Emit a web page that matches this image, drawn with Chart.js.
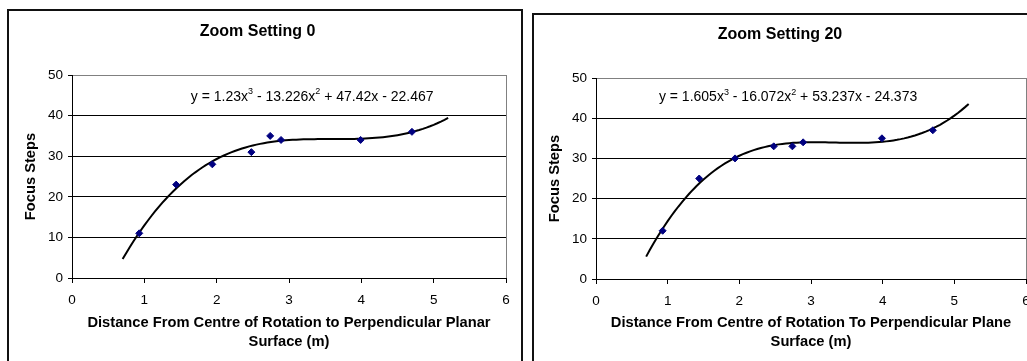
<!DOCTYPE html>
<html>
<head>
<meta charset="utf-8">
<title>Focus steps vs distance</title>
<script src="https://cdn.jsdelivr.net/npm/chart.js@4.4.1/dist/chart.umd.min.js"></script>
<style>
  html, body { margin: 0; padding: 0; background: #fff; }
  body { position: relative; width: 1027px; height: 361px; overflow: hidden; }
  .panel { position: absolute; border: 2px solid #111; background: #fff; }
  #panel0 { left: 7px; top: 9px; width: 512px; height: 360px; }
  #panel20 { left: 532px; top: 13px; width: 505px; height: 360px; }
  canvas { display: block; }
</style>
</head>
<body>
<div class="panel" id="panel0"><canvas id="chart0" width="512" height="350"></canvas></div>
<div class="panel" id="panel20"><canvas id="chart20" width="505" height="346"></canvas></div>
<script>
// measured distance (m) and focus steps at each zoom setting
const distance = [0.93, 1.44, 1.94, 2.48, 2.74, 2.89, 3.99, 4.70];
const stepsZoom0 = [11, 23, 28, 31, 35, 34, 34, 36];
const stepsZoom20 = [12, 25, 30, 33, 33, 34, 35, 37];

// cubic trendline coefficients: x^3, x^2, x, constant
const fitZoom0 = [1.23, -13.226, 47.42, -22.467];
const fitZoom20 = [1.605, -16.072, 53.237, -24.373];
const fitRange = [0.7, 5.2];

const xTicks = [0, 1, 2, 3, 4, 5, 6];
const yTicks = [0, 10, 20, 30, 40, 50];

const FONT = '"Liberation Sans", Arial, sans-serif';
Chart.defaults.font.family = FONT;
Chart.defaults.color = "#000";

function cubic(c, x) {
    return ((c[0] * x + c[1]) * x + c[2]) * x + c[3];
}

function trendPoints(c) {
    const pts = [];
    for (let x = fitRange[0]; x <= fitRange[1] + 1e-9; x += 0.05) {
        pts.push({ x: x, y: cubic(c, x) });
    }
    return pts;
}

// pieces of the equation text, superscripts flagged
function equationParts(c) {
    const sign = v => (v < 0 ? " - " : " + ");
    return [
        { text: "y = " + c[0] + "x" },
        { text: "3", sup: true },
        { text: sign(c[1]) + Math.abs(c[1]) + "x" },
        { text: "2", sup: true },
        { text: sign(c[2]) + Math.abs(c[2]) + "x" + sign(c[3]) + Math.abs(c[3]) }
    ];
}

const equationLabel = {
    id: "equationLabel",
    afterDatasetsDraw(chart, args, opts) {
        const { ctx, scales } = chart;
        const big = "14px " + FONT;
        const small = "9px " + FONT;
        let w = 0;
        opts.parts.forEach(p => {
            ctx.font = p.sup ? small : big;
            w += ctx.measureText(p.text).width;
        });
        let px = scales.x.getPixelForValue(opts.at[0]) - w / 2;
        const py = scales.y.getPixelForValue(opts.at[1]);
        ctx.save();
        ctx.fillStyle = "#000";
        ctx.textAlign = "left";
        ctx.textBaseline = "middle";
        opts.parts.forEach(p => {
            ctx.font = p.sup ? small : big;
            ctx.fillText(p.text, px, p.sup ? py - 5 : py);
            px += ctx.measureText(p.text).width;
        });
        ctx.restore();
    }
};

function makeChart(id, cfg) {
    const points = distance.map((d, i) => ({ x: d, y: cfg.steps[i] }));
    return new Chart(document.getElementById(id), {
        type: "scatter",
        data: {
            datasets: [
                {
                    data: points,
                    pointStyle: "rectRot",
                    pointRadius: 3.5,
                    backgroundColor: "#000080",
                    borderColor: "#000080",
                    borderWidth: 1
                },
                {
                    data: trendPoints(cfg.fit),
                    showLine: true,
                    pointRadius: 0,
                    borderColor: "#000",
                    borderWidth: 2,
                    tension: 0
                }
            ]
        },
        options: {
            responsive: false,
            animation: false,
            layout: { padding: { top: 0, right: cfg.padRight, bottom: 0, left: 0 } },
            plugins: {
                legend: { display: false },
                tooltip: { enabled: false },
                title: {
                    display: true,
                    text: cfg.title,
                    color: "#000",
                    font: { size: 16, weight: "bold", lineHeight: 1.2 },
                    padding: { top: cfg.titleTop, bottom: 33.4 }
                },
                equationLabel: { parts: equationParts(cfg.fit), at: cfg.eqAt }
            },
            scales: {
                x: {
                    type: "linear",
                    min: xTicks[0],
                    max: xTicks[xTicks.length - 1],
                    afterBuildTicks: s => { s.ticks = xTicks.map(v => ({ value: v })); },
                    ticks: { color: "#000", font: { size: 13.5 }, padding: 9 },
                    grid: {
                        color: c => (c.tick && c.tick.value === 6 ? "#808080" : "rgba(0,0,0,0)"),
                        tickColor: "#000",
                        tickLength: 5,
                        lineWidth: 1
                    },
                    border: { color: "#000", width: 1 },
                    title: {
                        display: true,
                        text: cfg.xTitle,
                        color: "#000",
                        font: { size: 14.7, weight: "bold", lineHeight: 1.27 },
                        padding: { top: 0, bottom: 10 }
                    },
                    afterFit: s => { s.height = cfg.xHeight; }
                },
                y: {
                    type: "linear",
                    min: yTicks[0],
                    max: yTicks[yTicks.length - 1],
                    afterBuildTicks: s => { s.ticks = yTicks.map(v => ({ value: v })); },
                    ticks: { color: "#000", font: { size: 13.5 }, padding: 5 },
                    grid: {
                        color: c => (c.tick && c.tick.value === 50 ? "#808080" : "#000"),
                        tickColor: "#000",
                        tickLength: 4,
                        lineWidth: 1
                    },
                    border: { color: "#000", width: 1 },
                    title: {
                        display: true,
                        text: "Focus Steps",
                        color: "#000",
                        font: { size: 14.7, weight: "bold", lineHeight: 1.27 },
                        padding: { top: cfg.yTitlePad, bottom: 0 }
                    },
                    afterFit: s => { s.width = cfg.yWidth; }
                }
            }
        },
        plugins: [equationLabel]
    });
}

makeChart("chart0", {
    title: "Zoom Setting 0",
    steps: stepsZoom0,
    fit: fitZoom0,
    xTitle: ["Distance From Centre of Rotation to Perpendicular Planar", "Surface (m)"],
    eqAt: [3.32, 44.6],
    titleTop: 11.4,
    padRight: 15,
    xHeight: 83,
    yWidth: 63,
    yTitlePad: 12.7
});

makeChart("chart20", {
    title: "Zoom Setting 20",
    steps: stepsZoom20,
    fit: fitZoom20,
    xTitle: ["Distance From Centre of Rotation To Perpendicular Plane", "Surface (m)"],
    eqAt: [2.68, 45.2],
    titleTop: 10.4,
    padRight: 13,
    xHeight: 82,
    yWidth: 62,
    yTitlePad: 11.7
});
</script>
</body>
</html>
